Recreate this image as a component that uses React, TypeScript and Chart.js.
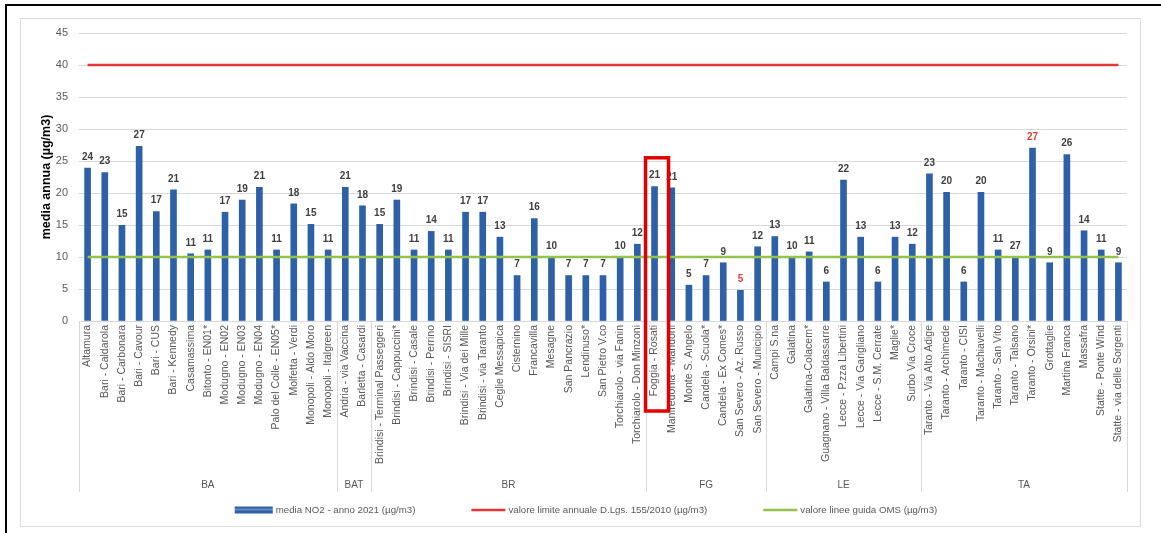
import React, { useEffect, useRef } from "react";
import { Chart, registerables } from "chart.js";

Chart.register(...registerables);

const FONT = "'Liberation Sans', Arial, sans-serif";

const stations = [
  "Altamura", "Bari - Caldarola", "Bari - Carbonara", "Bari - Cavour", "Bari - CUS", "Bari - Kennedy",
  "Casamassima", "Bitonto - EN01*", "Modugno - EN02", "Modugno - EN03", "Modugno - EN04",
  "Palo del Colle - EN05*", "Molfetta - Verdi", "Monopoli - Aldo Moro", "Monopoli - Italgreen",
  "Andria - via Vaccina", "Barletta - Casardi",
  "Brindisi - Terminal Passeggeri", "Brindisi - Cappuccini*", "Brindisi - Casale", "Brindisi - Perrino",
  "Brindisi - SISRI", "Brindisi - Via dei Mille", "Brindisi - via Taranto", "Ceglie Messapica",
  "Cisternino", "Francavilla", "Mesagne", "San Pancrazio", "Lendinuso*", "San Pietro V.co",
  "Torchiarolo - via Fanin", "Torchiarolo - Don Minzoni",
  "Foggia - Rosati", "Manfredonia - Mandorli", "Monte S. Angelo", "Candela - Scuola*",
  "Candela - Ex Comes*", "San Severo - Az. Russo", "San Severo - Municipio",
  "Campi S.na", "Galatina", "Galatina-Colacem*", "Guagnano - Villa Baldassarre",
  "Lecce - P.zza Libertini", "Lecce - Via Garigliano", "Lecce - S.M. Cerrate", "Maglie*", "Surbo Via Croce",
  "Taranto - Via Alto Adige", "Taranto - Archimede", "Taranto - CISI", "Taranto - Machiavelli",
  "Taranto - San Vito", "Taranto - Talsano", "Taranto - Orsini*", "Grottaglie", "Martina Franca",
  "Massafra", "Statte - Ponte Wind", "Statte - via delle Sorgenti",
];

const groupNames = ["BA", "BAT", "BR", "FG", "LE", "TA"];
const groupSizes = [15, 2, 16, 7, 9, 12];

const no2Values = [
  23.9, 23.2, 14.95, 27.3, 17.1, 20.5, 10.5, 11.1, 17.0, 18.9, 20.9, 11.1, 18.3, 15.1, 11.1,
  20.9, 18.0,
  15.1, 18.9, 11.1, 14.0, 11.1, 17.0, 17.0, 13.1, 7.1, 16.0, 10.0, 7.1, 7.1, 7.1, 10.0, 12.0,
  21.0, 20.8, 5.6, 7.1, 9.1, 4.8, 11.6,
  13.2, 10.0, 10.8, 6.1, 22.0, 13.1, 6.1, 13.1, 12.0,
  23.0, 20.1, 6.1, 20.1, 11.1, 10.0, 27.0, 9.1, 26.0, 14.1, 11.1, 9.1,
];

const valueLabels = [
  "24", "23", "15", "27", "17", "21", "11", "11", "17", "19", "21", "11", "18", "15", "11",
  "21", "18",
  "15", "19", "11", "14", "11", "17", "17", "13", "7", "16", "10", "7", "7", "7", "10", "12",
  "21", "21", "5", "7", "9", "5", "12",
  "13", "10", "11", "6", "22", "13", "6", "13", "12",
  "23", "20", "6", "20", "11", "27", "27", "9", "26", "14", "11", "9",
];

const redLabelStations = ["San Severo - Az. Russo", "Taranto - Orsini*"];
const highlightedStation = "Foggia - Rosati";
const highlightTop = 25.5;

const limitValue = 40;
const guidelineValue = 10;
const yMin = 0;
const yMax = 45;
const yStep = 5;

const seriesNames = [
  "media NO2 - anno 2021 (µg/m3)",
  "valore limite annuale D.Lgs. 155/2010 (µg/m3)",
  "valore linee guida OMS (µg/m3)",
];
const yTitle = "media annua (µg/m3)";

const BLUE = "#2e60a8";
const RED = "#e5373a";
const GREEN = "#94c24c";
const GRAY_TEXT = "#595959";
const GRID = "#d9d9d9";

const valueLabelPlugin = {
  id: "valueLabels",
  afterDatasetsDraw(chart: any) {
    const meta = chart.getDatasetMeta(0);
    const ctx = chart.ctx;
    ctx.save();
    ctx.font = `bold 10px ${FONT}`;
    ctx.textAlign = "center";
    ctx.textBaseline = "middle";
    meta.data.forEach((el: any, i: number) => {
      ctx.fillStyle = redLabelStations.includes(stations[i]) ? "#e0403a" : "#404040";
      ctx.fillText(valueLabels[i], el.x, el.y - 11);
    });
    ctx.restore();
  },
};

const decorPlugin = {
  id: "decor",
  afterDraw(chart: any) {
    const ctx = chart.ctx;
    const x = chart.scales.x;
    const y = chart.scales.y;
    const area = chart.chartArea;
    const half = (x.getPixelForValue(1) - x.getPixelForValue(0)) / 2;
    ctx.save();
    // group separators
    const bounds: number[] = [0];
    groupSizes.forEach((s) => bounds.push(bounds[bounds.length - 1] + s));
    ctx.strokeStyle = GRID;
    ctx.lineWidth = 1;
    bounds.forEach((b) => {
      const px = b < stations.length ? x.getPixelForValue(b) - half : x.getPixelForValue(stations.length - 1) + half;
      const xx = Math.round(px) + 0.5;
      ctx.beginPath();
      ctx.moveTo(xx, area.bottom);
      ctx.lineTo(xx, area.bottom + 171);
      ctx.stroke();
    });
    // group names
    ctx.fillStyle = GRAY_TEXT;
    ctx.font = `10px ${FONT}`;
    ctx.textAlign = "center";
    ctx.textBaseline = "middle";
    groupNames.forEach((g, gi) => {
      const a = x.getPixelForValue(bounds[gi]) - half;
      const b = x.getPixelForValue(bounds[gi + 1] - 1) + half;
      ctx.fillText(g, (a + b) / 2, area.bottom + 164);
    });
    // legend
    ctx.font = `9.7px ${FONT}`;
    const ds = chart.data.datasets;
    const swW = 38, gapT = 3, gapItem = 52;
    const widths = ds.map((d: any) => swW + gapT + ctx.measureText(d.label).width);
    const total = widths.reduce((s: number, w: number) => s + w, 0) + gapItem * (ds.length - 1);
    let cx = (area.left + area.right) / 2 - total / 2 - 17;
    const ly = 510;
    ctx.textAlign = "left";
    ds.forEach((d: any, i: number) => {
      if (d.type === "line") {
        ctx.strokeStyle = d.borderColor;
        ctx.lineWidth = 2.5;
        ctx.beginPath();
        ctx.moveTo(cx + 4, ly);
        ctx.lineTo(cx + swW, ly);
        ctx.stroke();
      } else {
        ctx.fillStyle = d.backgroundColor;
        ctx.fillRect(cx, ly - 3.5, swW, 7);
        ctx.fillStyle = "rgba(255,255,255,0.25)";
        ctx.fillRect(cx, ly - 1.5, swW, 2);
      }
      ctx.fillStyle = GRAY_TEXT;
      ctx.fillText(d.label, cx + swW + gapT, ly + 0.5);
      cx += widths[i] + gapItem;
    });
    // highlight box
    const hi = stations.indexOf(highlightedStation);
    const hx = x.getPixelForValue(hi);
    const top = y.getPixelForValue(highlightTop);
    ctx.strokeStyle = "#e00000";
    ctx.lineWidth = 3.5;
    ctx.strokeRect(hx - 9, top, 23, area.bottom + 90 - top);
    ctx.restore();
  },
};

export default function App() {
  const ref = useRef<HTMLCanvasElement>(null);
  useEffect(() => {
    if (!ref.current) return;
    const chart = new Chart(ref.current, {
      type: "bar",
      data: {
        labels: stations,
        datasets: [
          {
            type: "bar",
            label: seriesNames[0],
            data: no2Values,
            backgroundColor: BLUE,
            barThickness: 6,
            order: 2,
          } as any,
          {
            type: "line",
            label: seriesNames[1],
            data: stations.map(() => limitValue),
            borderColor: RED,
            borderWidth: 2.5,
            pointRadius: 0,
            order: 1,
          } as any,
          {
            type: "line",
            label: seriesNames[2],
            data: stations.map(() => guidelineValue),
            borderColor: GREEN,
            borderWidth: 2.5,
            pointRadius: 0,
            order: 1,
          } as any,
        ],
      },
      options: {
        animation: false,
        responsive: false,
        layout: { padding: { left: 35, right: 34, top: 33, bottom: 50 } },
        plugins: { legend: { display: false }, tooltip: { enabled: false } },
        scales: {
          x: {
            grid: { display: false, drawTicks: false },
            border: { display: true, color: GRID },
            ticks: {
              autoSkip: false,
              maxRotation: 90,
              minRotation: 90,
              padding: 4,
              color: GRAY_TEXT,
              font: { size: 10.5, family: FONT },
            },
            afterFit: (s: any) => {
              s.height = 162;
            },
          },
          y: {
            min: yMin,
            max: yMax,
            ticks: { stepSize: yStep, padding: 11, color: GRAY_TEXT, font: { size: 11, family: FONT } },
            grid: { color: GRID, drawTicks: false },
            border: { display: false },
            title: {
              display: true,
              text: yTitle,
              color: "#000",
              font: { size: 12.5, weight: "bold", family: FONT },
              padding: { top: 4, bottom: 4 },
            },
            afterFit: (s: any) => {
              s.width = 44;
            },
          },
        },
      } as any,
      plugins: [valueLabelPlugin, decorPlugin],
    });
    return () => chart.destroy();
  }, []);

  return (
    <div style={{ position: "absolute", left: 0, top: 0, width: 1161, height: 533, overflow: "hidden", background: "#fff" }}>
      <div style={{ position: "absolute", left: 5, top: 4, width: 1300, height: 700, border: "2px solid #000" }} />
      <div style={{ position: "absolute", left: 20, top: 18, width: 1121, height: 509, border: "1px solid #dcdcdc", boxSizing: "border-box" }} />
      <canvas ref={ref} width={1161} height={533} style={{ position: "absolute", left: 0, top: 0, display: "block" }} />
    </div>
  );
}
